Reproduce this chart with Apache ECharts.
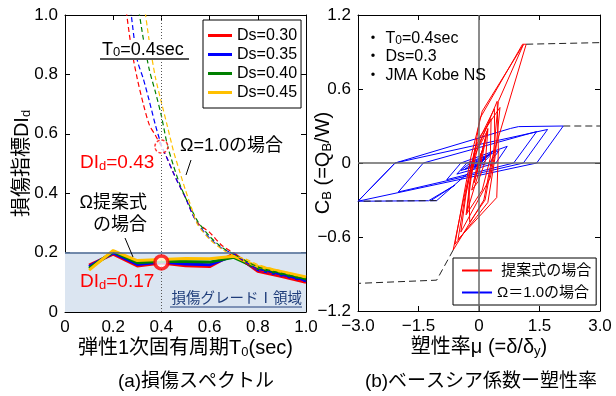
<!DOCTYPE html>
<html>
<head>
<meta charset="utf-8">
<script src="https://cdn.jsdelivr.net/npm/echarts@6/dist/echarts.min.js"></script>
<style>
  html, body { margin: 0; background: #fff; }
  #chart { width: 616px; height: 396px; }
</style>
</head>
<body>
<div id="chart"></div>
<script>
const FONT = "'Liberation Sans', Arial, 'Noto Sans CJK JP', sans-serif";

// (a) damage spectrum, proposed Omega (solid)
const periods = [0.1, 0.2, 0.3, 0.4, 0.5, 0.6, 0.7, 0.8, 0.9, 1.0];
const diDs030 = [0.158, 0.195, 0.155, 0.165, 0.156, 0.153, 0.196, 0.137, 0.119, 0.100];
const diDs035 = [0.153, 0.199, 0.160, 0.168, 0.162, 0.159, 0.190, 0.142, 0.124, 0.105];
const diDs040 = [0.147, 0.203, 0.166, 0.171, 0.170, 0.168, 0.184, 0.147, 0.129, 0.111];
const diDs045 = [0.141, 0.207, 0.173, 0.177, 0.180, 0.179, 0.188, 0.153, 0.136, 0.118];

// (a) Omega = 1.0 (dashed)
const omegaPeriods = [0.25, 0.275, 0.3, 0.325, 0.35, 0.375, 0.4, 0.425, 0.45, 0.475, 0.5, 0.525, 0.55, 0.6, 0.65, 0.7, 0.75, 0.8, 0.85, 0.9, 0.95, 1.0];
const omegaDs030 = [1.04, 0.89, 0.785, 0.70, 0.63, 0.595, 0.557, 0.515, 0.468, 0.425, 0.385, 0.338, 0.30, 0.268, 0.225, 0.198, 0.165, 0.142, 0.13, 0.12, 0.11, 0.10];
const omegaDs035 = [1.18, 1.0, 0.848, 0.785, 0.71, 0.63, 0.562, 0.515, 0.468, 0.425, 0.385, 0.336, 0.298, 0.248, 0.215, 0.195, 0.168, 0.145, 0.135, 0.125, 0.115, 0.105];
const omegaDs040 = [null, 1.2, 1.05, 0.92, 0.815, 0.741, 0.66, 0.561, 0.493, 0.433, 0.385, 0.345, 0.306, 0.255, 0.218, 0.195, 0.172, 0.152, 0.14, 0.13, 0.12, 0.11];
const omegaDs045 = [null, null, 1.25, 1.06, 0.91, 0.79, 0.706, 0.625, 0.542, 0.475, 0.41, 0.35, 0.295, 0.245, 0.212, 0.19, 0.178, 0.16, 0.148, 0.138, 0.128, 0.118];

const markOmega = [[0.4, 0.557]];
const markProposed = [[0.4, 0.167]];
const gradeOneLimit = 0.2;

// (b) base shear coefficient vs ductility, [mu, CB]
const blueLoop = [
  [0, 0], [0.2, 0.06], [-0.12, -0.035], [0.35, 0.1], [0.05, 0], [-0.3, -0.09],
  [-1.05, -0.305], [-1.2, -0.306], [-0.6, -0.18], [-1.25, -0.306], [-3.0, -0.31],
  [-2.08, 0], [0.78, 0.28], [0.98, 0.295], [2.09, 0.30],
  [1.43, 0], [-3.0, -0.31],
  [-2.08, 0], [1.7, 0.272],
  [1.1, 0], [-2.0, -0.235],
  [-1.38, 0], [1.43, 0.255],
  [0.86, 0], [-0.8, -0.135],
  [-0.45, 0], [0.7, 0.135],
  [0.42, 0], [-0.55, -0.09],
  [-0.3, 0], [0.5, 0.1],
  [0.25, 0], [-0.45, -0.06],
  [-0.22, 0], [0.3, 0.07],
  [0.1, 0], [-0.35, -0.05],
  [-0.15, 0], [0.15, 0.04],
  [0.02, 0], [-0.25, -0.03], [-0.1, 0], [0.05, 0.02]
];
const redLoop = [
  [0, 0], [0.1, 0.12], [-0.06, -0.08], [0.16, 0.2], [-0.12, -0.16],
  [0.22, 0.28], [0.02, -0.05], [-0.3, -0.4],
  [-0.15, 0], [0.02, 0.36], [1.08, 0.963], [1.17, 0.963],
  [0.31, 0.02], [0.12, -0.3], [-0.64, -0.706],
  [-0.42, -0.35], [-0.18, 0], [0.45, 0.5],
  [0.48, 0.1], [0.44, -0.28], [-0.52, -0.62],
  [-0.36, -0.3], [-0.1, 0.12], [0.38, 0.44],
  [0.4, 0.05], [0.22, -0.32], [-0.6, -0.66],
  [-0.4, -0.3], [-0.2, 0.05], [0.08, 0.42], [1.1, 0.96], [0.48, 0.5], [0.35, 0.05], [0.15, -0.3], [-0.23, -0.48],
  [-0.25, -0.2], [-0.05, 0.18], [0.52, 0.45],
  [0.42, 0.12], [0.28, -0.12], [-0.45, -0.56],
  [-0.32, -0.25], [-0.12, 0.08], [0.3, 0.36],
  [0.28, 0.04], [0.08, -0.22], [-0.32, -0.42],
  [-0.22, -0.14], [-0.05, 0.1], [0.22, 0.27],
  [0.16, 0.02], [-0.02, -0.15], [-0.18, -0.22], [-0.06, -0.04], [0.05, 0.08], [-0.02, -0.02]
];
const skeletonRedPos = [[1.17, 0.963], [3.0, 0.976]];
const skeletonRedNeg = [[-0.64, -0.706], [-1.05, -0.95], [-3.0, -0.976]];
const skeletonBluePos = [[2.09, 0.30], [3.0, 0.30]];
const skeletonBlueNeg = [[-1.05, -0.305], [-3.0, -0.31]];

const dsNames = ['Ds=0.30', 'Ds=0.35', 'Ds=0.40', 'Ds=0.45'];
const dsColors = ['#ff0000', '#0000ff', '#008000', '#ffc000'];

const pairs = (xs, ys) => xs.map((x, i) => [x, ys[i]]).filter((p) => p[1] !== null);

const sub = { s: { fontSize: 13, verticalAlign: 'bottom', padding: [7, 0, 0, 0] } };

function fmtLeft(v) {
  return Math.abs(v) < 1e-9 ? '0' : v.toFixed(1);
}
function fmtSigned(v) {
  if (Math.abs(v) < 1e-9) return '0';
  return (v < 0 ? '\u2212' : '') + Math.abs(v).toFixed(1);
}

function valueAxis(gridIndex, position, min, max, interval, withLabels, formatter) {
  return {
    type: 'value', gridIndex, position, min, max, interval,
    nameMoveOverlap: false,
    axisLine: { show: true, onZero: false, lineStyle: { color: '#000', width: 1 } },
    axisTick: { show: true, inside: true, length: 5, lineStyle: { color: '#000' } },
    axisLabel: { show: withLabels, fontSize: 17, color: '#000', fontFamily: FONT, margin: 7, formatter },
    splitLine: { show: false }
  };
}

const chart = echarts.init(document.getElementById('chart'));

const series = [];

dsNames.forEach((name, i) => {
  const s = {
    name, type: 'line', xAxisIndex: 0, yAxisIndex: 0,
    data: pairs(periods, [diDs030, diDs035, diDs040, diDs045][i]),
    showSymbol: false, symbol: 'none',
    lineStyle: { color: dsColors[i], width: 3 },
    itemStyle: { color: dsColors[i] },
    z: 3
  };
  if (i === 0) {
    s.markArea = {
      silent: true,
      itemStyle: { color: '#dbe5f1' },
      data: [[{ yAxis: 0 }, { yAxis: gradeOneLimit }]]
    };
    s.markLine = {
      silent: true, symbol: 'none', animation: false,
      label: { show: false },
      data: [
        { xAxis: 0.4, lineStyle: { color: '#555', type: [1, 2], width: 1 } },
        { yAxis: gradeOneLimit, lineStyle: { color: '#4a6792', type: 'solid', width: 1.5 } }
      ]
    };
  }
  series.push(s);
});

[omegaDs030, omegaDs035, omegaDs040, omegaDs045].forEach((vals, i) => {
  series.push({
    name: 'omega ' + dsNames[i], type: 'line', xAxisIndex: 0, yAxisIndex: 0,
    data: pairs(omegaPeriods, vals),
    showSymbol: false, symbol: 'none', clip: true, smooth: 0.25,
    lineStyle: { color: dsColors[i], width: 1.2, type: [5, 3] },
    z: 4
  });
});

series.push({
  name: 'markOmega', type: 'scatter', xAxisIndex: 0, yAxisIndex: 0,
  data: markOmega, symbolSize: 13,
  itemStyle: { color: '#fff', borderColor: '#ff0000', borderWidth: 1.5, borderType: [3, 2] },
  z: 6
});
series.push({
  name: 'markProposed', type: 'scatter', xAxisIndex: 0, yAxisIndex: 0,
  data: markProposed, symbolSize: 13,
  itemStyle: { color: '#fff', borderColor: '#ff0000', borderWidth: 3.5 },
  z: 6
});

series.push({
  name: '\u03a9\uff1d1.0\u306e\u5834\u5408', type: 'line', xAxisIndex: 2, yAxisIndex: 2,
  data: blueLoop, showSymbol: false, symbol: 'none',
  lineStyle: { color: '#0000ff', width: 1 }, itemStyle: { color: '#0000ff' },
  markLine: {
    silent: true, symbol: 'none', animation: false, label: { show: false },
    lineStyle: { color: '#666', type: 'solid', width: 1.5 },
    data: [{ xAxis: 0 }, { yAxis: 0 }]
  },
  z: 3
});
series.push({
  name: '\u63d0\u6848\u5f0f\u306e\u5834\u5408', type: 'line', xAxisIndex: 2, yAxisIndex: 2,
  data: redLoop, showSymbol: false, symbol: 'none',
  lineStyle: { color: '#ff0000', width: 1 }, itemStyle: { color: '#ff0000' },
  z: 4
});
[skeletonRedPos, skeletonRedNeg, skeletonBluePos, skeletonBlueNeg].forEach((d, i) => {
  series.push({
    name: 'skeleton' + i, type: 'line', xAxisIndex: 2, yAxisIndex: 2,
    data: d, showSymbol: false, symbol: 'none',
    lineStyle: { color: '#222', width: 1, type: [7, 4] },
    z: 5
  });
});

const nameStyle = { fontSize: 20, color: '#000', fontFamily: FONT, rich: { s: { fontSize: 13, fontFamily: FONT, verticalAlign: 'bottom', padding: [8, 0, 0, 0] } } };

const txt = (x, y, text, size, color, extra) => ({
  type: 'text', x, y, z: 20,
  style: Object.assign({ text, fill: color || '#000', font: size + 'px ' + FONT, rich: sub }, extra || {})
});
const seg = (x1, y1, x2, y2, color, w) => ({
  type: 'line', z: 20, shape: { x1, y1, x2, y2 }, style: { stroke: color || '#000', lineWidth: w || 1 }
});

chart.setOption({
  animation: false,
  backgroundColor: '#fff',
  textStyle: { fontFamily: FONT },
  grid: [
    { left: 65, top: 15, width: 241, height: 297 },
    { left: 358, top: 15, width: 242, height: 296 }
  ],
  xAxis: [
    Object.assign(valueAxis(0, 'bottom', 0, 1, 0.2, true, fmtLeft), {
      name: '\u5f3e\u60271\u6b21\u56fa\u6709\u5468\u671fT{s|0}(sec)',
      nameLocation: 'middle', nameGap: 26, nameTextStyle: nameStyle
    }),
    valueAxis(0, 'top', 0, 1, 0.2, false),
    Object.assign(valueAxis(1, 'bottom', -3, 3, 1.5, true, fmtSigned), {
      name: '\u5851\u6027\u7387\u03bc (=\u03b4/\u03b4{s|y})',
      nameLocation: 'middle', nameGap: 26, nameTextStyle: nameStyle
    }),
    valueAxis(1, 'top', -3, 3, 1.5, false)
  ],
  yAxis: [
    Object.assign(valueAxis(0, 'left', 0, 1, 0.2, true, fmtLeft), {
      name: '\u640d\u50b7\u6307\u6a19DI{s|d}', nameLocation: 'middle', nameGap: 32, nameRotate: 90,
      nameTextStyle: nameStyle
    }),
    valueAxis(0, 'right', 0, 1, 0.2, false),
    Object.assign(valueAxis(1, 'left', -1.2, 1.2, 0.6, true, fmtSigned), {
      name: 'C{s|B} (=Q{s|B}/W)', nameLocation: 'middle', nameGap: 24, nameRotate: 90,
      nameTextStyle: nameStyle
    }),
    valueAxis(1, 'right', -1.2, 1.2, 0.6, false)
  ],
  legend: [
    {
      data: dsNames, orient: 'vertical', left: 203, top: 20,
      backgroundColor: '#fff', borderColor: '#000', borderWidth: 1, borderRadius: 0,
      padding: [7, 4, 7, 5], itemGap: 2, itemWidth: 24, itemHeight: 3, icon: 'rect',
      textStyle: { fontSize: 16, lineHeight: 17, color: '#000', fontFamily: FONT },
      selectedMode: false
    },
    {
      data: ['\u63d0\u6848\u5f0f\u306e\u5834\u5408', '\u03a9\uff1d1.0\u306e\u5834\u5408'],
      orient: 'vertical', left: 453, top: 258,
      backgroundColor: '#fff', borderColor: '#000', borderWidth: 1, borderRadius: 0,
      padding: [5, 5, 5, 9], itemGap: 7, itemWidth: 30, itemHeight: 2, icon: 'rect',
      formatter: (n) => (n.charAt(0) === '\u63d0' ? ' ' + n : n),
      textStyle: { fontSize: 15, lineHeight: 15, color: '#000', fontFamily: FONT },
      selectedMode: false
    }
  ],
  graphic: [
    txt(101, 40, 'T{t|0}=0.4sec', 18, '#000', {
      backgroundColor: '#fff', padding: [1, 1, 1, 1],
      rich: { t: { fontSize: 13, verticalAlign: 'bottom' } }
    }),
    seg(100, 59, 189, 59, '#555', 2),
    txt(180, 137, '\u03a9=1.0\u306e\u5834\u5408', 18),
    seg(191, 160, 186, 175, '#000', 1),
    txt(80, 153, 'DI{s|d}=0.43', 19, '#ff0000'),
    txt(147, 194, '\u03a9\u63d0\u6848\u5f0f', 18, '#000', { align: 'right' }),
    txt(147, 216, '\u306e\u5834\u5408', 18, '#000', { align: 'right' }),
    seg(125, 238, 133, 257, '#000', 1),
    txt(80, 272, 'DI{s|d}=0.17', 19, '#ff0000'),
    txt(302, 292, '\u640d\u50b7\u30b0\u30ec\u30fc\u30c9\u2160\u9818\u57df', 14.5, '#1f3d7a', { align: 'right' }),
    seg(170, 307, 302, 307, '#1f3d7a', 1),
    txt(365, 30, '\u30fb T{t|0}=0.4sec', 16, '#000', { rich: { t: { fontSize: 12, verticalAlign: 'bottom', padding: [5, 0, 0, 0] } } }),
    txt(365, 49, '\u30fb Ds=0.3', 16),
    txt(365, 68, '\u30fb JMA Kobe NS', 16),
    txt(196, 372, '(a)\u640d\u50b7\u30b9\u30da\u30af\u30c8\u30eb', 19, '#000', { align: 'center' }),
    txt(481, 372, '(b)\u30d9\u30fc\u30b9\u30b7\u30a2\u4fc2\u6570\u30fc\u5851\u6027\u7387', 19, '#000', { align: 'center' })
  ],
  series
});
</script>
</body>
</html>
